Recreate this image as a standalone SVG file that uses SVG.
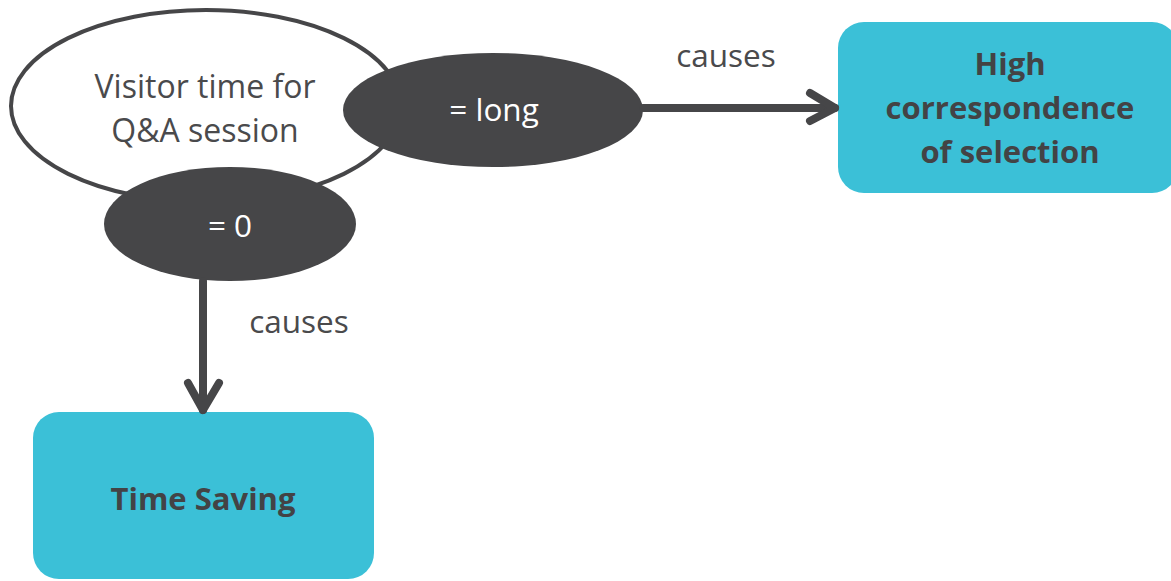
<svg xmlns="http://www.w3.org/2000/svg" width="1171" height="581" viewBox="0 0 1171 581">
  <style>
    .txt { font-family: "Open Sans", "Noto Sans", "Liberation Sans", sans-serif; text-anchor: middle; }
    .dark-text { fill: #4a4a4c; font-size: 32px; }
    .white-text { fill: #ffffff; font-size: 31.5px; }
    .box-text { fill: #434345; font-size: 31px; font-weight: bold; }
    .label { fill: #4a4a4c; font-size: 31.5px; }
    .state { fill: #464648; }
    .outcome { fill: #3bc0d7; }
    .conn { fill: none; stroke: #464648; stroke-width: 8; stroke-linecap: round; stroke-linejoin: round; }
  </style>

  <!-- main variable -->
  <g id="node-visitor-time">
    <ellipse cx="206" cy="106" rx="195" ry="96" fill="#ffffff" stroke="#464648" stroke-width="4"/>
    <text class="txt dark-text" x="205" y="98">Visitor time for</text>
    <text class="txt dark-text" x="205" y="142">Q&amp;A session</text>
  </g>

  <!-- states of the variable -->
  <g id="node-long">
    <ellipse class="state" cx="493" cy="110" rx="150" ry="57"/>
    <text class="txt white-text" x="494" y="121">= long</text>
  </g>

  <g id="node-zero">
    <ellipse class="state" cx="230" cy="224" rx="126" ry="57"/>
    <text class="txt white-text" x="230" y="237">= 0</text>
  </g>

  <!-- outcomes -->
  <g id="node-high-correspondence">
    <rect class="outcome" x="838" y="22" width="340" height="171" rx="26" ry="26"/>
    <text class="txt box-text" x="1010" y="75">High</text>
    <text class="txt box-text" x="1010" y="119">correspondence</text>
    <text class="txt box-text" x="1010" y="163">of selection</text>
  </g>

  <g id="node-time-saving">
    <rect class="outcome" x="33" y="412" width="341" height="167" rx="26" ry="26"/>
    <text class="txt box-text" x="203" y="510">Time Saving</text>
  </g>

  <!-- connectors -->
  <g id="connectors">
    <path class="conn" d="M643 108 H835"/>
    <path class="conn" d="M810 93 L835 108 L810 121"/>
    <text class="txt label" x="726" y="67">causes</text>

    <path class="conn" d="M203 281 V410"/>
    <path class="conn" d="M188 383 L203 410 L219 383"/>
    <text class="txt label" x="299" y="333">causes</text>
  </g>
</svg>
